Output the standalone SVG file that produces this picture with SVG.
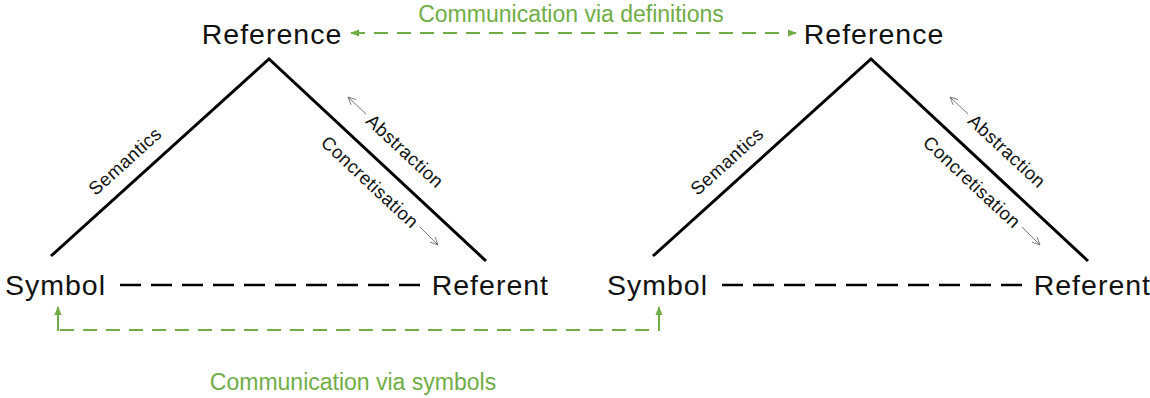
<svg xmlns="http://www.w3.org/2000/svg" width="1150" height="398" viewBox="0 0 1150 398">
<defs>
<style>
.term{font-family:"Liberation Sans",Arial,sans-serif;font-size:28.5px;fill:#111;letter-spacing:1px;}
.lbl{font-family:"Liberation Sans",Arial,sans-serif;font-size:18.5px;fill:#111;letter-spacing:0.5px;}
.green{font-family:"Liberation Sans",Arial,sans-serif;font-size:23px;fill:#70ad47;}
.side{fill:none;stroke:#000;stroke-width:3;}
.blackdash{fill:none;stroke:#000;stroke-width:2.5;stroke-dasharray:21 10;}
.gdash{fill:none;stroke:#70ad47;stroke-width:2;stroke-dasharray:14 9;}
.gsolid{fill:none;stroke:#70ad47;stroke-width:2;}
.gray{fill:none;stroke:#777;stroke-width:1;}
</style>
<marker id="gh" viewBox="0 0 10 10" refX="9" refY="5" markerWidth="9" markerHeight="9" markerUnits="userSpaceOnUse" orient="auto-start-reverse">
<path d="M0,1 L10,5 L0,9 z" fill="#70ad47"/>
</marker>
<marker id="ah" viewBox="0 0 10 10" refX="9.5" refY="5" markerWidth="9" markerHeight="9" markerUnits="userSpaceOnUse" orient="auto">
<path d="M1,1 L9.5,5 L1,9" fill="none" stroke="#777" stroke-width="1"/>
</marker>
</defs>

<g id="triangle-left">
<g id="reference-left"><text class="term" x="272" y="44" text-anchor="middle">Reference</text></g>
<g id="symbol-left"><text class="term" x="5" y="295">Symbol</text></g>
<g id="referent-left"><text class="term" x="549" y="295" text-anchor="end">Referent</text></g>
<g id="sides-left">
<polyline class="side" points="51,256 269,59 486,261"/>
<text class="lbl" text-anchor="middle" dominant-baseline="central" transform="translate(125,161) rotate(-42)">Semantics</text>
<text class="lbl" text-anchor="middle" dominant-baseline="central" transform="translate(405,151) rotate(43)">Abstraction</text>
<text class="lbl" text-anchor="middle" dominant-baseline="central" transform="translate(370,182) rotate(43)">Concretisation</text>
<line class="gray" x1="366" y1="114" x2="348" y2="97" marker-end="url(#ah)"/>
<line class="gray" x1="420" y1="227" x2="438" y2="245" marker-end="url(#ah)"/>
</g>
</g>

<g id="triangle-right" transform="translate(602,0)">
<g id="reference-right"><text class="term" x="272" y="44" text-anchor="middle">Reference</text></g>
<g id="symbol-right"><text class="term" x="5" y="295">Symbol</text></g>
<g id="referent-right"><text class="term" x="549" y="295" text-anchor="end">Referent</text></g>
<g id="sides-right">
<polyline class="side" points="51,256 269,59 486,261"/>
<text class="lbl" text-anchor="middle" dominant-baseline="central" transform="translate(125,161) rotate(-42)">Semantics</text>
<text class="lbl" text-anchor="middle" dominant-baseline="central" transform="translate(405,151) rotate(43)">Abstraction</text>
<text class="lbl" text-anchor="middle" dominant-baseline="central" transform="translate(370,182) rotate(43)">Concretisation</text>
<line class="gray" x1="366" y1="114" x2="348" y2="97" marker-end="url(#ah)"/>
<line class="gray" x1="420" y1="227" x2="438" y2="245" marker-end="url(#ah)"/>
</g>
</g>

<g id="connectors">
<line class="blackdash" x1="120" y1="285" x2="421" y2="285"/>
<line class="blackdash" x1="722" y1="285" x2="1023" y2="285"/>
<line class="gdash" x1="351" y1="33" x2="796" y2="33" marker-start="url(#gh)" marker-end="url(#gh)"/>
<line class="gdash" x1="60" y1="330" x2="658" y2="330"/>
<line class="gsolid" x1="58" y1="331" x2="58" y2="307" marker-end="url(#gh)"/>
<line class="gsolid" x1="659" y1="331" x2="659" y2="307" marker-end="url(#gh)"/>
</g>

<g id="green-labels">
<text class="green" x="571" y="22" text-anchor="middle">Communication via definitions</text>
<text class="green" x="353" y="390" text-anchor="middle">Communication via symbols</text>
</g>
</svg>
